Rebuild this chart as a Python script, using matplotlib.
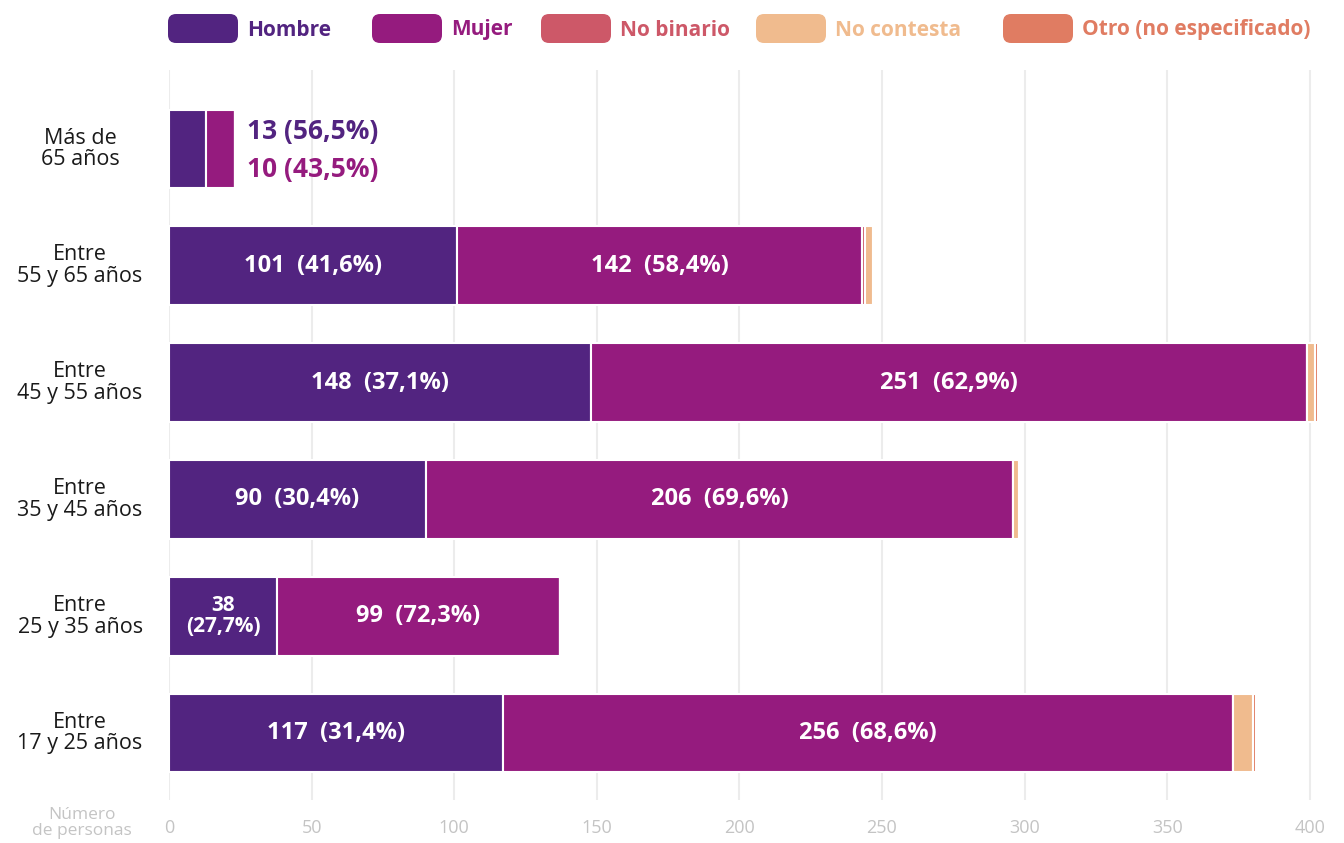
import matplotlib.pyplot as plt
from matplotlib.patches import FancyBboxPatch

plt.rcParams['font.family'] = ['Open Sans', 'DejaVu Sans']

# data (bottom row first)
grupos = ['Entre\n17 y 25 años', 'Entre\n25 y 35 años', 'Entre\n35 y 45 años',
          'Entre\n45 y 55 años', 'Entre\n55 y 65 años', 'Más de\n65 años']
hombre = [117, 38, 90, 148, 101, 13]
mujer = [256, 99, 206, 251, 142, 10]
no_binario = [0, 0, 0, 0, 1, 0]
no_contesta = [7, 0, 2, 3, 3, 0]
otro = [1, 0, 0, 1, 0, 0]

series = ['Hombre', 'Mujer', 'No binario', 'No contesta', 'Otro (no especificado)']
colores = ['#522480', '#951b7e', '#cd5868', '#f0bb8e', '#e07c62']
xticks = [0, 50, 100, 150, 200, 250, 300, 350, 400]

fig = plt.figure(figsize=(13.44, 8.43), dpi=100)
ax = fig.add_axes([169 / 1344, 43 / 843, 1155 / 1344, 730 / 843])

valores = [hombre, mujer, no_binario, no_contesta, otro]
y = list(range(len(grupos)))
izq = [0] * len(grupos)
for vals, col in zip(valores, colores):
    ax.barh(y, vals, left=izq, height=0.675, color=col,
            edgecolor='white', linewidth=1.5, zorder=2)
    izq = [a + b for a, b in zip(izq, vals)]

ax.set_xlim(0, 405)
ax.set_ylim(-0.574, 5.676)
ax.set_xticks(xticks)
ax.set_xticklabels([str(t) for t in xticks], color='#c4c4c4', fontsize=13)
ax.tick_params(axis='x', length=0, pad=14)
ax.set_yticks([])
ax.grid(axis='x', color='#ececec', linewidth=1.5, zorder=0)
for s in ax.spines.values():
    s.set_visible(False)


def pct(a, b):
    return ('%.1f' % (100 * a / (a + b))).replace('.', ',')


for i, (h, m) in enumerate(zip(hombre, mujer)):
    ph, pm = pct(h, m), pct(m, h)
    if h + m < 40:
        ax.text(h + m + 4.5, i + 0.15, f'{h} ({ph}%)', color=colores[0],
                fontsize=19, fontweight='bold', va='center', ha='left')
        ax.text(h + m + 4.5, i - 0.18, f'{m} ({pm}%)', color=colores[1],
                fontsize=19, fontweight='bold', va='center', ha='left')
        continue
    if h < 50:
        ax.text(h / 2, i, f'{h}\n({ph}%)', color='white', fontsize=15,
                fontweight='bold', va='center', ha='center', linespacing=1.0)
    else:
        ax.text(h / 2, i, f'{h}  ({ph}%)', color='white', fontsize=17,
                fontweight='bold', va='center', ha='center')
    ax.text(h + m / 2, i, f'{m}  ({pm}%)', color='white', fontsize=17,
            fontweight='bold', va='center', ha='center')

for i, g in enumerate(grupos):
    ax.text(-0.077, i, g, transform=ax.get_yaxis_transform(), ha='center',
            va='center', fontsize=15.5, color='#1a1a1a', linespacing=1.05)

fig.text(82 / 1344, 1 - 823 / 843, 'Número\nde personas', ha='center',
         va='center', fontsize=12.5, color='#c4c4c4', linespacing=1.0)

# legend
pos = [168, 372, 541, 756, 1003]
for x0, nombre, col in zip(pos, series, colores):
    caja = FancyBboxPatch((x0 / 1344, 1 - 43 / 843), 70 / 1344, 29 / 843,
                          boxstyle='round,pad=0,rounding_size=0.006',
                          transform=fig.transFigure, facecolor=col,
                          edgecolor='none', mutation_aspect=1344 / 843)
    fig.patches.append(caja)
    fig.text((x0 + 79) / 1344, 1 - 30 / 843, nombre, color=col, fontsize=15,
             fontweight='bold', va='center', ha='left')

fig.savefig('out.png', dpi=100)
